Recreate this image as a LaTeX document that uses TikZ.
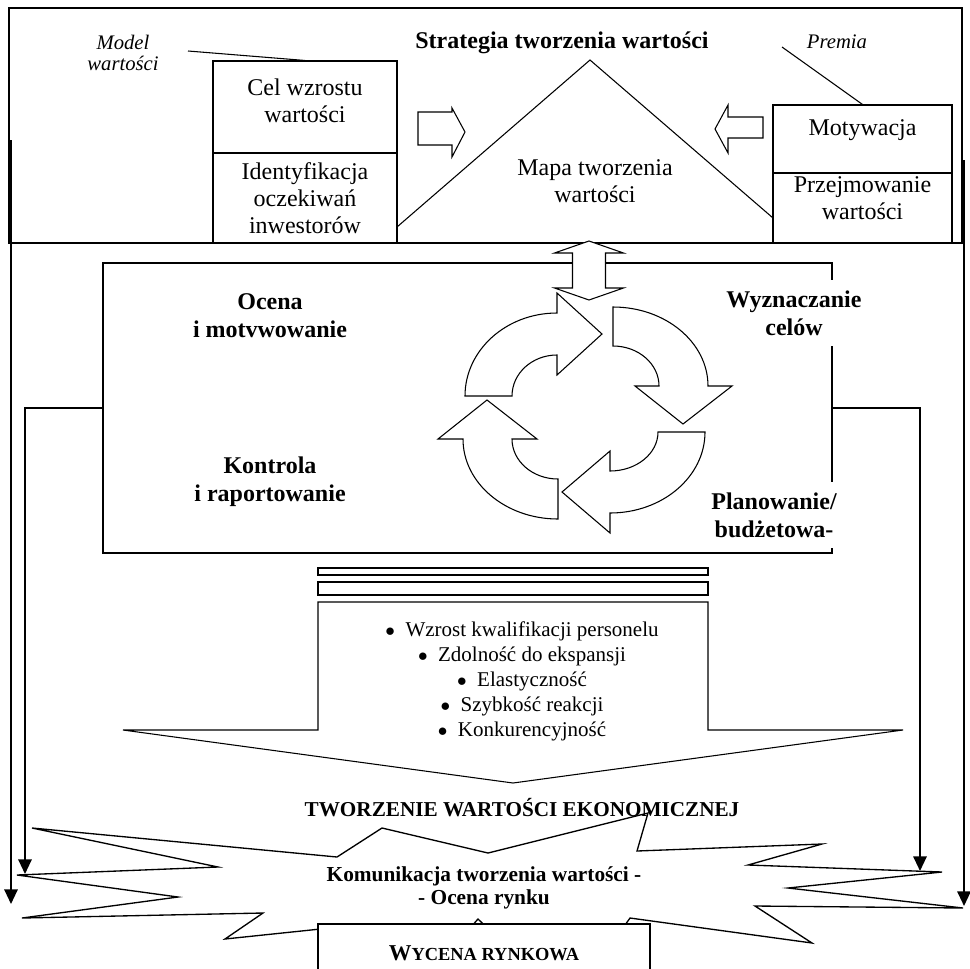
\documentclass[tikz,border=0pt]{standalone}
\usepackage{fontspec}
\setmainfont{Liberation Serif}
\usetikzlibrary{arrows.meta}

\begin{document}
\begin{tikzpicture}[x=0.75pt,y=0.75pt,yscale=-1,xscale=1,
  box/.style={draw,line width=0.8pt,inner sep=0pt},
  hollow/.style={draw,line width=0.8pt,fill=white,line join=miter},
  flow/.style={line width=1.5pt,-{Triangle[length=11pt,width=10pt]}},
  lbl/.style={inner sep=0.75pt,align=center,font=\fontsize{18}{20.5}\selectfont},
  blbl/.style={inner sep=0.75pt,align=center,font=\fontsize{18}{21}\selectfont\bfseries},
  cover/.style={blbl,fill=white,inner xsep=2pt,inner ysep=8pt},
  ]
\useasboundingbox (0,0) rectangle (970,968);
\clip (0,0) rectangle (970,968);

%Shape: Rectangle (top frame)
\node[box,minimum width=714.75pt,minimum height=176.25pt] (frame) at (485.5,125.5) {};
%Shape: Rectangle (cycle box)
\node[box,line width=1.1pt,minimum width=546.75pt,minimum height=217.5pt] (loopbox) at (467.5,408) {};

%Shape: Rectangle
\node[box,minimum width=138pt,minimum height=69pt] (cel) at (305,107) {};
%Shape: Rectangle
\node[box,minimum width=138pt,minimum height=67.5pt] (ident) at (305,198) {};
%Shape: Rectangle
\node[box,minimum width=134.25pt,minimum height=51pt] (motyw) at (862.5,139) {};
%Shape: Rectangle
\node[box,minimum width=134.25pt,minimum height=52.5pt] (przejm) at (862.5,208) {};

%Straight Lines (roof)
\coordinate (apex) at (590,60);
\draw[line width=0.8pt] (397,227) -- (apex) -- (773,218) ;

%Straight Lines
\coordinate (modelend) at (188,51);
\draw[line width=0.8pt] (modelend) -- (cel.north) ;
%Straight Lines
\coordinate (premiaend) at (782,47);
\draw[line width=0.8pt] (premiaend) -- (motyw.north) ;

%Shape: Right Arrow
\draw[hollow] (418,112) -- (452,112) -- (452,108) -- (465,132) -- (452,157) -- (452,145) -- (418,145) -- cycle ;
%Shape: Left Arrow
\draw[hollow] (763,117) -- (728,117) -- (728,105) -- (715,129) -- (728,153) -- (728,138) -- (763,138) -- cycle ;

%Shape: Up-Down Arrow
\draw[hollow] (589,241) -- (623.5,253) -- (605.5,253) -- (605.5,288) -- (623.5,288) -- (589,300) -- (554.5,288) -- (572.5,288) -- (572.5,253) -- (554.5,253) -- cycle ;

%Shape: Curved Arrow (top left)
\draw[hollow] (465,396) arc[start angle=180,end angle=270,x radius=92,y radius=83] -- (557,293) -- (602,334) -- (557,375) -- (557,355) arc[start angle=270,end angle=180,x radius=45,y radius=41] -- cycle ;
%Shape: Curved Arrow (top right)
\draw[hollow] (613,307) arc[start angle=270,end angle=360,x radius=95,y radius=79] -- (732,386) -- (683,424) -- (635,386) -- (659,386) arc[start angle=0,end angle=-90,x radius=46,y radius=40] -- cycle ;
%Shape: Curved Arrow (bottom right)
\draw[hollow] (705,432) arc[start angle=0,end angle=90,x radius=95,y radius=81] -- (610,533) -- (562,492) -- (610,451) -- (610,471) arc[start angle=90,end angle=0,x radius=48,y radius=39] -- cycle ;
%Shape: Curved Arrow (bottom left)
\draw[hollow] (558,519) arc[start angle=90,end angle=180,x radius=95,y radius=80] -- (438,439) -- (487,400) -- (537,439) -- (512,439) arc[start angle=180,end angle=90,x radius=46,y radius=40] -- cycle ;

%Shape: Rectangle (bars)
\draw[hollow] (318,568) rectangle (708,575) ;
\draw[hollow] (318,582) rectangle (708,595) ;
%Shape: Down Arrow
\draw[hollow] (318,602) -- (708,602) -- (708,730) -- (903,730) -- (513,783) -- (123,730) -- (318,730) -- cycle ;

%Shape: Explosion
\draw[hollow,line width=1pt] (32,828) -- (337,857) -- (382,828) -- (488,853) -- (648,813) -- (637,851) -- (822,844) -- (748,865) -- (942,872) -- (788,888) -- (963,908) -- (755,906) -- (812,943) -- (630,918) -- (618,935) -- (505,945) -- (478,919) -- (455,945) -- (330,928) -- (225,939) -- (263,913) -- (22,918) -- (178,897) -- (17,875) -- (218,867) -- cycle ;

%Straight Lines (outer arrows)
\coordinate (outL) at (11,140);
\coordinate (outLend) at (11,904);
\draw[flow] (outL) -- (outLend) ;
\coordinate (outR) at (964,160);
\coordinate (outRend) at (964,906);
\draw[flow] (outR) -- (outRend) ;
%Straight Lines (inner arrows)
\coordinate (inL) at (25,874);
\draw[flow] (loopbox.west) -| (inL) ;
\coordinate (inR) at (920,871);
\draw[flow] (loopbox.east) -| (inR) ;

%Shape: Rectangle (market valuation)
\node[box,line width=1pt,fill=white,minimum width=249pt,minimum height=43.5pt] (wycena) at (484,953) {{\fontsize{17}{19}\selectfont\bfseries W}{\fontsize{13.8}{16}\selectfont\bfseries YCENA RYNKOWA}};

% Text Node
\node[lbl,font=\fontsize{15.5}{16}\selectfont\itshape] (model) at (123,53) {Model\\wartości};
% Text Node
\node[lbl,font=\fontsize{15.5}{16}\selectfont\itshape] (premia) at (837,42) {Premia};
% Text Node
\node[blbl] (strategia) at (562,43) {Strategia tworzenia wartości};
% Text Node
\node[lbl] (celtxt) at (305,101) {Cel wzrostu\\wartości};
% Text Node
\node[lbl] (identtxt) at (305,198) {Identyfikacja\\oczekiwań\\inwestorów};
% Text Node
\node[lbl] (mapa) at (595,181) {Mapa tworzenia\\wartości};
% Text Node
\node[lbl] (motywtxt) at (862.5,130) {Motywacja};
% Text Node
\node[lbl] (przejmtxt) at (862.5,198) {Przejmowanie\\wartości};

% Text Node
\node[blbl] (ocena) at (270,316) {Ocena\\i motvwowanie};
% Text Node
\node[blbl] (kontrola) at (270,482) {Kontrola\\i raportowanie};
% Text Node
\node[cover] (wyznacz) at (794,313) {Wyznaczanie\\celów};
% Text Node
\node[cover] (plan) at (774,515) {Planowanie/\\budżetowa-};

% Text Node
\node[lbl,font=\fontsize{15.75}{18.75}\selectfont] (czynniki) at (522,681) {$\bullet$\enspace Wzrost kwalifikacji personelu\\$\bullet$\enspace Zdolność do ekspansji\\$\bullet$\enspace Elastyczność\\$\bullet$\enspace Szybkość reakcji\\$\bullet$\enspace Konkurencyjność};
% Text Node
\node[blbl,font=\fontsize{15.9}{17}\selectfont\bfseries] (tworzenie) at (522,808) {TWORZENIE WARTOŚCI EKONOMICZNEJ};
% Text Node
\node[blbl,font=\fontsize{16}{17.25}\selectfont\bfseries] (komunikacja) at (484,888) {Komunikacja tworzenia wartości -\\- Ocena rynku};

\end{tikzpicture}
\end{document}
